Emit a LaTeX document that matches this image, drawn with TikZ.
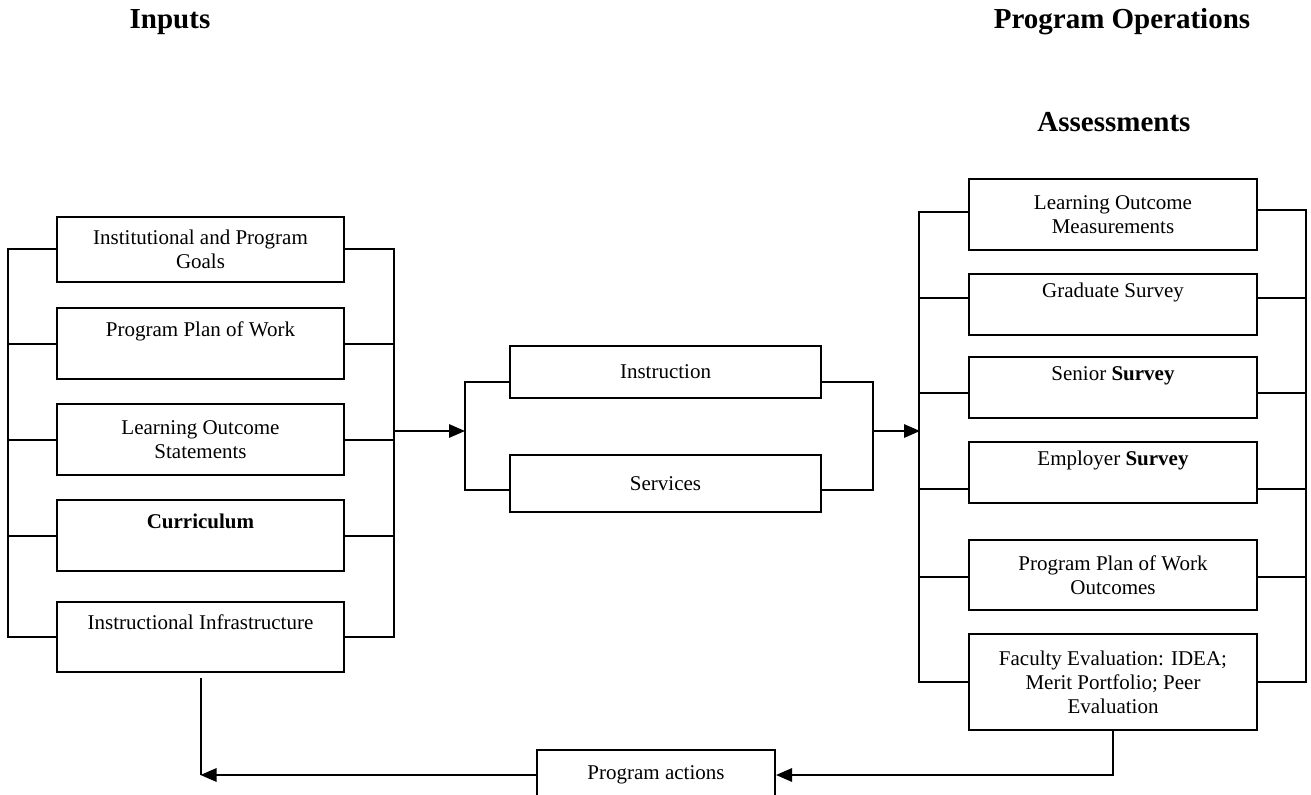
\documentclass[tikz,border=0pt]{standalone}
\usepackage{fontspec}
\setmainfont{Liberation Serif}
\usetikzlibrary{arrows.meta}
\begin{document}
\begin{tikzpicture}[x=0.75pt,y=-0.75pt,line width=1.5pt,
  box/.style={draw,rectangle,align=center,inner sep=0pt,font=\fontsize{15.75}{18}\selectfont},
  inbox/.style={box,minimum width=215.25pt},
  midbox/.style={box,minimum width=233.25pt},
  outbox/.style={box,minimum width=216pt},
  head/.style={font=\fontsize{21.75}{26}\selectfont\bfseries},
  arr/.style={-{Triangle[length=12pt,width=10pt]}}]
\useasboundingbox (0,0) rectangle (1311,795);
\node[head] (inputs) at (170,22) {Inputs};
\node[head] (progop) at (1122,22) {Program Operations};
\node[head] (assess) at (1114,122) {Assessments};
\node[inbox,minimum height=48.75pt] (goals) at (200.5,249.5) {Institutional and Program\\Goals};
\node[inbox,minimum height=53.25pt] (plan) at (200.5,343.5) {\strut Program Plan of Work\\\strut};
\node[inbox,minimum height=53.25pt] (lost) at (200.5,439.5) {Learning Outcome\\Statements};
\node[inbox,minimum height=53.25pt] (curr) at (200.5,535.5) {\strut\textbf{Curriculum}\\\strut};
\node[inbox,minimum height=52.5pt] (infra) at (200.5,637) {\strut Instructional Infrastructure\\\strut};
\node[midbox,minimum height=39pt] (instr) at (665.5,372) {Instruction};
\node[midbox,minimum height=42.75pt] (serv) at (665.5,483.5) {Services};
\node[outbox,minimum height=53.25pt] (lom) at (1113,214.5) {Learning Outcome\\Measurements};
\node[outbox,minimum height=45.75pt] (grad) at (1113,304.5) {\strut Graduate Survey\\\strut};
\node[outbox,minimum height=45.75pt] (senior) at (1113,387.5) {\strut Senior \textbf{Survey}\\\strut};
\node[outbox,minimum height=45.75pt] (empl) at (1113,472.5) {\strut Employer \textbf{Survey}\\\strut};
\node[outbox,minimum height=52.5pt] (ppwo) at (1113,575) {Program Plan of Work\\Outcomes};
\node[outbox,minimum height=72pt] (fac) at (1113,682) {Faculty Evaluation: IDEA;\\Merit Portfolio; Peer\\Evaluation};
\node[box,minimum width=178.5pt,minimum height=37.5pt] (pa) at (656,775) {Program actions};
\coordinate (inR) at (393,431);
\coordinate (midL) at (465,431);
\coordinate (midR) at (873,431);
\coordinate (asL) at (920,431);
\draw (goals.west) -- ++(-48,0) |- (infra.west);
\draw (goals.east) -- ++(49,0) |- (infra.east);
\foreach \n in {plan,lost,curr}
  \draw (\n.west) -- ++(-48,0) (\n.east) -- ++(49,0);
\draw[arr] (inR) -- (midL);
\draw ([yshift=-7.5pt]instr.west) -| (midL) |- ([yshift=-5pt]serv.west);
\draw ([yshift=-7.5pt]instr.east) -| (midR) |- ([yshift=-5pt]serv.east);
\draw[arr] (midR) -- (asL);
\draw ([yshift=2pt]lom.west) -- ++(-49,0) |- (fac.west);
\draw ([yshift=3pt]lom.east) -- ++(48,0) |- (fac.east);
\foreach \n/\s in {grad/4.9pt,senior/-4pt,empl/-12.4pt,ppwo/-1.5pt}
  \draw ([yshift=\s]\n.west) -- ++(-49,0) ([yshift=\s]\n.east) -- ++(48,0);
\draw[arr] (fac.south) |- (pa.east);
\draw[arr] (pa.west) -- (pa.west -| infra.south);
\draw ([yshift=-4pt]infra.south) -- (infra.south |- pa.west);
\end{tikzpicture}
\end{document}
